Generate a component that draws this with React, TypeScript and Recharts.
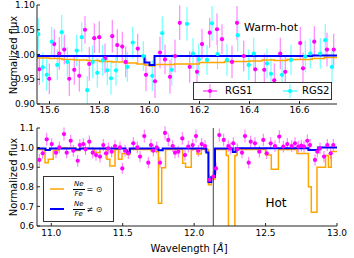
import React from 'react';
import { ComposedChart, Scatter, Line, XAxis, YAxis, ErrorBar, ReferenceLine } from 'recharts';

// ---------- Top panel (Warm-hot) ----------
const topXTicks = [15.6, 15.8, 16.0, 16.2, 16.4, 16.6];
const topYTicks = [0.9, 0.95, 1.0, 1.05, 1.1];

// [wavelength, flux, error]
const topRGS1: [number, number, number][] = [
  [15.559, 0.970, 0.032], [15.599, 0.951, 0.031], [15.619, 1.021, 0.030], [15.639, 1.002, 0.033],
  [15.659, 1.010, 0.030], [15.679, 0.951, 0.035], [15.699, 0.969, 0.030], [15.719, 0.957, 0.032],
  [15.742, 1.050, 0.028], [15.759, 0.981, 0.034], [15.779, 1.033, 0.030], [15.799, 1.035, 0.032],
  [15.822, 0.992, 0.030], [15.851, 1.037, 0.033], [15.871, 1.019, 0.032], [15.891, 1.016, 0.030],
  [15.905, 0.985, 0.031], [15.953, 1.012, 0.030], [15.986, 0.959, 0.033], [16.022, 0.946, 0.034],
  [16.042, 1.004, 0.032], [16.062, 0.990, 0.030], [16.082, 0.955, 0.034], [16.102, 0.997, 0.033],
  [16.121, 1.064, 0.035], [16.161, 0.975, 0.032], [16.190, 0.965, 0.033], [16.210, 1.021, 0.031],
  [16.241, 1.044, 0.030], [16.270, 1.051, 0.032], [16.290, 1.031, 0.030], [16.330, 0.985, 0.033],
  [16.350, 1.064, 0.034], [16.377, 0.997, 0.031], [16.423, 0.970, 0.032], [16.459, 0.969, 0.033],
  [16.499, 0.948, 0.034], [16.523, 1.002, 0.032], [16.543, 0.965, 0.031], [16.603, 1.023, 0.033],
  [16.614, 0.972, 0.032], [16.659, 1.026, 0.031], [16.710, 1.010, 0.034], [16.737, 1.010, 0.032],
];

const topRGS2: [number, number, number][] = [
  [15.555, 1.041, 0.033], [15.573, 0.974, 0.030], [15.589, 0.959, 0.032], [15.609, 1.026, 0.030],
  [15.631, 0.979, 0.031], [15.649, 1.045, 0.035], [15.671, 0.985, 0.030], [15.709, 1.008, 0.032],
  [15.729, 1.035, 0.030], [15.751, 0.928, 0.028], [15.773, 0.985, 0.033], [15.791, 0.963, 0.030],
  [15.813, 0.988, 0.031], [15.831, 0.968, 0.030], [15.846, 0.952, 0.033], [15.866, 0.968, 0.031],
  [15.911, 0.975, 0.030], [15.933, 1.024, 0.032], [15.975, 0.997, 0.030], [16.011, 0.957, 0.031],
  [16.051, 1.043, 0.034], [16.089, 0.969, 0.032], [16.150, 1.062, 0.034], [16.174, 1.002, 0.031],
  [16.197, 0.990, 0.032], [16.230, 0.989, 0.030], [16.250, 1.063, 0.035], [16.272, 1.001, 0.031],
  [16.310, 0.989, 0.032], [16.353, 1.039, 0.033], [16.397, 0.979, 0.031], [16.417, 1.002, 0.032],
  [16.470, 0.982, 0.030], [16.486, 0.961, 0.032], [16.530, 0.959, 0.033], [16.566, 0.989, 0.031],
  [16.623, 0.996, 0.032], [16.643, 1.002, 0.030], [16.683, 1.002, 0.031], [16.703, 1.029, 0.033],
  [16.730, 0.975, 0.032],
];

const topSolar: [number, number][] = [
  [15.55, 0.993], [15.60, 0.992], [15.65, 0.990], [15.70, 0.989], [15.75, 0.988], [15.80, 0.986],
  [15.85, 0.985], [15.90, 0.983], [15.95, 0.981], [15.98, 0.979], [16.00, 0.977], [16.02, 0.980],
  [16.10, 0.981], [16.20, 0.984], [16.30, 0.986], [16.40, 0.987], [16.45, 0.989], [16.50, 0.988],
  [16.55, 0.990], [16.65, 0.992], [16.70, 0.994], [16.75, 0.995],
];

const topNonSolar: [number, number][] = [
  [15.55, 0.997], [15.98, 0.984], [16.00, 0.979], [16.02, 0.997], [16.65, 0.998], [16.75, 0.998],
];

// ---------- Bottom panel (Hot) ----------
const botXTicks = [11.0, 11.5, 12.0, 12.5, 13.0];
const botYTicks = [0.6, 0.7, 0.8, 0.9, 1.0, 1.1];
const neLine = 12.134;

const botRGS1: [number, number, number][] = [
  [10.916, 0.937, 0.030], [10.940, 0.971, 0.028], [10.968, 1.042, 0.033], [11.003, 1.018, 0.030],
  [11.033, 0.974, 0.029], [11.056, 1.001, 0.030], [11.089, 1.069, 0.034], [11.108, 0.974, 0.029],
  [11.136, 1.035, 0.031], [11.154, 0.984, 0.030], [11.185, 0.933, 0.030], [11.200, 1.013, 0.031],
  [11.224, 1.018, 0.030], [11.240, 0.991, 0.029], [11.266, 1.030, 0.032], [11.290, 0.974, 0.030],
  [11.313, 0.962, 0.029], [11.341, 0.954, 0.030], [11.364, 1.013, 0.031], [11.383, 0.971, 0.030],
  [11.399, 0.996, 0.030], [11.423, 0.979, 0.029], [11.446, 1.008, 0.031], [11.481, 1.001, 0.030],
  [11.497, 0.894, 0.028], [11.516, 0.984, 0.030], [11.539, 0.971, 0.029], [11.574, 1.022, 0.031],
  [11.602, 1.001, 0.030], [11.621, 0.954, 0.029], [11.651, 1.059, 0.033], [11.679, 0.923, 0.029],
  [11.698, 1.013, 0.031], [11.714, 0.985, 0.030], [11.738, 1.001, 0.030], [11.761, 0.923, 0.028],
  [11.796, 1.075, 0.034], [11.819, 1.039, 0.032], [11.850, 1.008, 0.030], [11.866, 0.974, 0.029],
  [11.889, 0.979, 0.030], [11.917, 1.047, 0.032], [11.936, 0.962, 0.029], [11.959, 1.005, 0.030],
  [11.990, 1.013, 0.031], [12.013, 1.059, 0.033], [12.029, 0.984, 0.030], [12.053, 1.018, 0.031],
  [12.076, 1.008, 0.030], [12.106, 0.835, 0.027], [12.134, 0.852, 0.028], [12.153, 0.894, 0.029],
  [12.176, 1.064, 0.033], [12.207, 1.039, 0.032], [12.239, 1.008, 0.030], [12.253, 0.995, 0.030],
  [12.274, 1.022, 0.031], [12.302, 0.991, 0.030], [12.335, 0.974, 0.029], [12.356, 1.059, 0.033],
  [12.382, 0.923, 0.029], [12.396, 1.030, 0.031], [12.426, 1.022, 0.031], [12.456, 0.979, 0.030],
  [12.484, 1.039, 0.032], [12.508, 0.971, 0.029], [12.536, 1.022, 0.031], [12.566, 1.008, 0.030],
  [12.596, 1.056, 0.033], [12.624, 1.005, 0.030], [12.652, 1.018, 0.031], [12.683, 1.008, 0.030],
  [12.706, 1.022, 0.031], [12.729, 1.005, 0.030], [12.750, 1.010, 0.030], [12.769, 1.005, 0.030],
  [12.792, 1.035, 0.032], [12.811, 1.013, 0.031], [12.846, 0.937, 0.029], [12.862, 0.979, 0.030],
  [12.881, 0.996, 0.030], [12.909, 0.954, 0.029], [12.932, 1.013, 0.031], [12.956, 0.971, 0.030],
  [12.974, 1.013, 0.031],
];

const botSolar: [number, number][] = [
  [10.90, 0.990], [10.956, 0.923], [10.979, 0.940], [11.014, 0.985], [11.05, 0.998], [11.17, 0.985],
  [11.20, 0.995], [11.30, 0.975], [11.34, 0.995], [11.39, 0.940], [11.41, 0.906], [11.446, 0.990],
  [11.47, 0.940], [11.495, 0.970], [11.53, 0.965], [11.55, 0.990], [11.70, 0.980], [11.75, 0.716],
  [11.773, 0.897], [11.80, 0.990], [11.92, 0.920], [11.94, 0.900], [11.98, 0.990], [12.02, 0.967],
  [12.05, 0.990], [12.10, 0.810], [12.12, 0.840], [12.146, 0.990], [12.225, 0.960], [12.24, 0.200],
  [12.285, 0.960], [12.30, 0.990], [12.50, 0.962], [12.54, 0.890], [12.59, 0.990], [12.72, 0.970],
  [12.80, 0.800], [12.82, 0.670], [12.86, 0.900], [12.92, 0.960], [12.94, 0.900], [12.96, 0.980],
  [13.00, 0.980],
];

const botNonSolar: [number, number][] = [
  [10.90, 0.995], [10.96, 0.988], [10.99, 0.995], [11.17, 0.990], [11.20, 0.996], [11.52, 0.985],
  [11.53, 0.976], [11.55, 0.996], [11.75, 0.986], [11.78, 0.996], [12.085, 0.975], [12.10, 0.825],
  [12.12, 0.850], [12.146, 0.996], [12.27, 0.978], [12.29, 0.997], [12.80, 0.988], [12.87, 1.000],
  [13.00, 1.000],
];

const pts = (a: [number, number, number][], xe: number) => a.map(([x, y, e]) => ({ x, y, e, xe }));
const ln = (a: [number, number][]) => a.map(([x, y]) => ({ x, y }));

const FONT = 'DejaVu Sans';
const axisStyle = { stroke: '#222', strokeWidth: 1 };
const tickStyle = { fill: '#000', fontSize: 9, fontFamily: FONT };

const dotShape = (color: string) => (p: any) =>
  p.cx == null || isNaN(p.cx) ? <g /> : <circle cx={p.cx} cy={p.cy} r={2.1} fill={color} />;

const MAG = '#ff00ff';
const MAG_BAR = '#ff70ff';
const CYA = '#00ffff';
const CYA_BAR = '#55ffff';

function ErrMarker({ color, bar, left }: { color: string; bar: string; left: number }) {
  return (
    <svg width={14} height={16} style={{ position: 'absolute', left, top: 0 }}>
      <line x1={0} y1={8} x2={14} y2={8} stroke={color} strokeWidth={1} />
      <line x1={7} y1={1} x2={7} y2={15} stroke={bar} strokeWidth={1} />
      <circle cx={7} cy={8} r={2} fill={color} />
    </svg>
  );
}

function Frac({ sym }: { sym: string }) {
  return (
    <span style={{ display: 'flex', alignItems: 'center', fontFamily: FONT }}>
      <span style={{ display: 'inline-flex', flexDirection: 'column', alignItems: 'center', fontStyle: 'italic', fontSize: 7, lineHeight: '7px' }}>
        <span style={{ borderBottom: '0.7px solid #000', padding: '0 1px 1px 1px' }}>Ne</span>
        <span style={{ paddingTop: 1 }}>Fe</span>
      </span>
      <span style={{ fontSize: 8, marginLeft: 2 }}>{sym} ⊙</span>
    </span>
  );
}

export default function App() {
  const r1 = pts(topRGS1, 0.006);
  const r2 = pts(topRGS2, 0.006);
  const b1 = pts(botRGS1, 0.008);
  return (
    <div style={{ position: 'absolute', left: 0, top: 0, width: 354, height: 258, fontFamily: FONT, background: '#fff' }}>
      {/* Top panel */}
      <div style={{ position: 'absolute', left: 0, top: 0 }}>
        <ComposedChart width={354} height={124} margin={{ top: 5, right: 17, bottom: 0, left: 0 }}>
          <XAxis dataKey="x" type="number" domain={[15.55, 16.75]} ticks={topXTicks} interval={0} allowDataOverflow
            height={20} tickSize={-3} tickMargin={6} tick={tickStyle} axisLine={axisStyle} tickLine={axisStyle}
            tickFormatter={(v: number) => v.toFixed(1)} />
          <XAxis xAxisId="top" orientation="top" type="number" domain={[15.55, 16.75]} ticks={topXTicks} interval={0}
            allowDataOverflow height={0} tickSize={-3} tick={false} axisLine={axisStyle} tickLine={axisStyle} />
          <YAxis dataKey="y" type="number" domain={[0.9, 1.1]} ticks={topYTicks} interval={0} allowDataOverflow
            width={37} tickSize={-3} tickMargin={5} tick={tickStyle} axisLine={axisStyle} tickLine={axisStyle}
            tickFormatter={(v: number) => v.toFixed(2)} />
          <YAxis yAxisId="right" orientation="right" type="number" domain={[0.9, 1.1]} ticks={topYTicks} interval={0}
            allowDataOverflow width={0} tickSize={-3} tick={false} axisLine={axisStyle} tickLine={axisStyle} />
          <Scatter data={r1} fill={MAG} shape={dotShape(MAG)} isAnimationActive={false}>
            <ErrorBar dataKey="e" direction="y" width={0} stroke={MAG_BAR} strokeWidth={1} />
            <ErrorBar dataKey="xe" direction="x" width={0} stroke={MAG} strokeWidth={1} />
          </Scatter>
          <Scatter data={r2} fill={CYA} shape={dotShape(CYA)} isAnimationActive={false}>
            <ErrorBar dataKey="e" direction="y" width={0} stroke={CYA_BAR} strokeWidth={1} />
            <ErrorBar dataKey="xe" direction="x" width={0} stroke={CYA} strokeWidth={1} />
          </Scatter>
          <Line data={ln(topSolar)} dataKey="y" type="stepAfter" stroke="#ffa500" strokeWidth={1.5} dot={false} isAnimationActive={false} />
          <Line data={ln(topNonSolar)} dataKey="y" type="stepAfter" stroke="#0000ff" strokeWidth={2} dot={false} isAnimationActive={false} />
        </ComposedChart>
      </div>

      {/* Bottom panel */}
      <div style={{ position: 'absolute', left: 0, top: 0 }}>
        <ComposedChart width={354} height={258} margin={{ top: 128, right: 17, bottom: 0, left: 0 }}>
          <XAxis dataKey="x" type="number" domain={[10.9, 13.0]} ticks={botXTicks} interval={0} allowDataOverflow
            height={32} tickSize={-3} tickMargin={7} tick={tickStyle} axisLine={axisStyle} tickLine={axisStyle}
            tickFormatter={(v: number) => v.toFixed(1)} />
          <XAxis xAxisId="top" orientation="top" type="number" domain={[10.9, 13.0]} ticks={botXTicks} interval={0}
            allowDataOverflow height={0} tickSize={-3} tick={false} axisLine={axisStyle} tickLine={axisStyle} />
          <YAxis dataKey="y" type="number" domain={[0.6, 1.1]} ticks={botYTicks} interval={0} allowDataOverflow
            width={37} tickSize={-3} tickMargin={6} tick={tickStyle} axisLine={axisStyle} tickLine={axisStyle}
            tickFormatter={(v: number) => v.toFixed(1)} />
          <YAxis yAxisId="right" orientation="right" type="number" domain={[0.6, 1.1]} ticks={botYTicks} interval={0}
            allowDataOverflow width={0} tickSize={-3} tick={false} axisLine={axisStyle} tickLine={axisStyle} />
          <Scatter data={b1} fill={MAG} shape={dotShape(MAG)} isAnimationActive={false}>
            <ErrorBar dataKey="e" direction="y" width={0} stroke={MAG_BAR} strokeWidth={1} />
            <ErrorBar dataKey="xe" direction="x" width={0} stroke={MAG} strokeWidth={1} />
          </Scatter>
          <Line data={ln(botSolar)} dataKey="y" type="stepAfter" stroke="#ffa500" strokeWidth={1.5} dot={false} isAnimationActive={false} />
          <Line data={ln(botNonSolar)} dataKey="y" type="stepAfter" stroke="#0000ff" strokeWidth={2} dot={false} isAnimationActive={false} />
          <ReferenceLine x={neLine} stroke="#444" strokeWidth={1} />
        </ComposedChart>
      </div>

      {/* Axis titles */}
      <div style={{ position: 'absolute', left: 13, top: 54.5, transform: 'translate(-50%,-50%) rotate(-90deg)', fontSize: 10, whiteSpace: 'nowrap' }}>Normalized flux</div>
      <div style={{ position: 'absolute', left: 13, top: 177, transform: 'translate(-50%,-50%) rotate(-90deg)', fontSize: 10, whiteSpace: 'nowrap' }}>Normalized flux</div>
      <div style={{ position: 'absolute', left: 189, top: 248, transform: 'translate(-50%,-50%)', fontSize: 10, whiteSpace: 'nowrap' }}>
        Wavelength [<span style={{ fontStyle: 'italic' }}>Å</span>]
      </div>

      {/* Panel labels */}
      <div style={{ position: 'absolute', left: 271, top: 27, transform: 'translate(-50%,-50%)', fontSize: 11, whiteSpace: 'nowrap' }}>Warm-hot</div>
      <div style={{ position: 'absolute', left: 276, top: 203, transform: 'translate(-50%,-50%)', fontSize: 12, whiteSpace: 'nowrap' }}>Hot</div>

      {/* Top legend */}
      <div style={{ position: 'absolute', left: 193, top: 82, width: 139, height: 18, border: '1px solid #333', background: '#fff', boxSizing: 'border-box', fontSize: 10 }}>
        <ErrMarker color={MAG} bar={MAG_BAR} left={9} />
        <span style={{ position: 'absolute', left: 31, top: 0, lineHeight: '16px' }}>RGS1</span>
        <ErrMarker color={CYA} bar={CYA_BAR} left={89} />
        <span style={{ position: 'absolute', left: 108, top: 0, lineHeight: '16px' }}>RGS2</span>
      </div>

      {/* Bottom legend */}
      <div style={{ position: 'absolute', left: 43, top: 176, width: 71, height: 46, border: '1px solid #333', background: '#fff', boxSizing: 'border-box' }}>
        <svg width={14} height={4} style={{ position: 'absolute', left: 6, top: 10 }}>
          <line x1={0} y1={2} x2={14} y2={2} stroke="#ffa500" strokeWidth={1.5} />
        </svg>
        <svg width={14} height={4} style={{ position: 'absolute', left: 6, top: 30 }}>
          <line x1={0} y1={2} x2={14} y2={2} stroke="#0000ff" strokeWidth={2} />
        </svg>
        <div style={{ position: 'absolute', left: 29, top: 4 }}><Frac sym="=" /></div>
        <div style={{ position: 'absolute', left: 29, top: 24 }}><Frac sym="≠" /></div>
      </div>
    </div>
  );
}
